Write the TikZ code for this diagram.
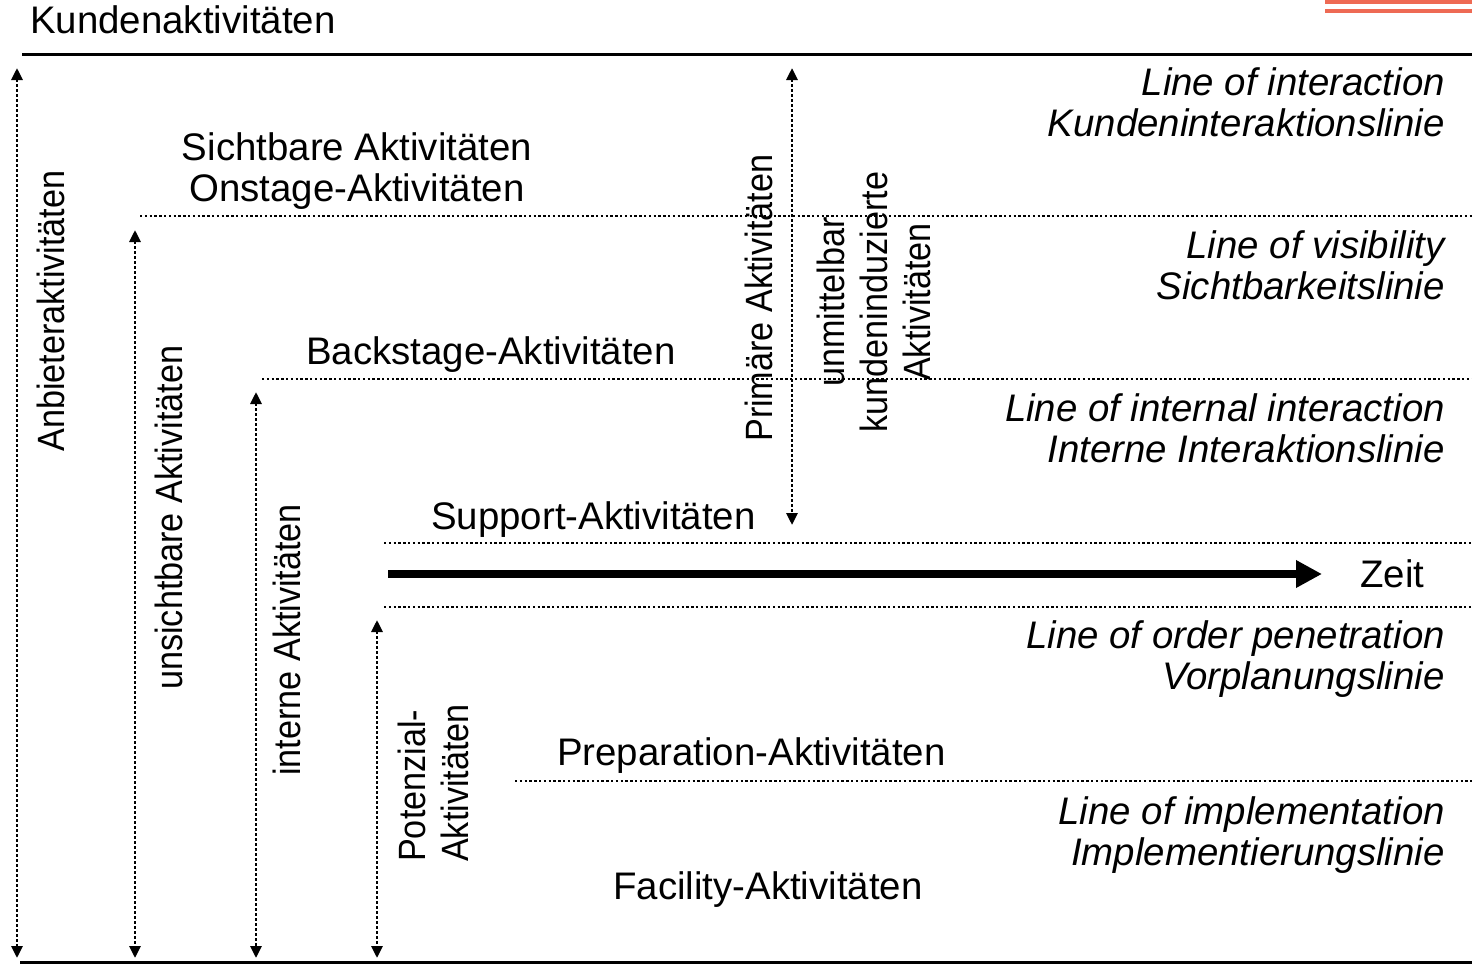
\documentclass[tikz,border=0pt]{standalone}
\usepackage{fontspec}
\setmainfont{Liberation Sans}
\usetikzlibrary{arrows.meta}
\definecolor{redl}{RGB}{238, 106, 84}
\newcommand{\sq}[1]{\scalebox{0.9}[1]{#1}}

\begin{document}
\begin{tikzpicture}[x=1pt, y=-1pt,
  every node/.style={inner sep=0pt, font=\fontsize{38.4}{41}\selectfont},
  hline/.style={line width=2.4pt, dash pattern=on 2.4pt off 2.4pt},
  vline/.style={line width=2.9pt, dash pattern=on 3pt off 2pt,
    {Triangle[length=12pt,width=11pt]}-{Triangle[length=12pt,width=11pt]}},
  linelbl/.style={anchor=base east, align=right, font=\fontsize{38.4}{41}\selectfont\itshape},
  rot/.style={rotate=90, anchor=base west, font=\fontsize{38}{43}\selectfont}]
  \useasboundingbox (0,0) rectangle (1472,964);

  % frame
  \coordinate (T1) at (22, 54);
  \coordinate (T2) at (1472, 54);
  \coordinate (U1) at (20, 962);
  \coordinate (U2) at (1472, 962);
  \draw[line width=3pt] (T1) -- (T2);
  \draw[line width=3pt] (U1) -- (U2);
  \fill[redl] (1325, 0) rectangle (1472, 3.5);
  \fill[redl] (1325, 9) rectangle (1472, 13);

  % horizontal lines
  \coordinate (H1a) at (140, 216);  \coordinate (H1b) at (1472, 216);
  \coordinate (H2a) at (262, 379);  \coordinate (H2b) at (1472, 379);
  \coordinate (H3a) at (384, 543);  \coordinate (H3b) at (1472, 543);
  \coordinate (H4a) at (384, 607);  \coordinate (H4b) at (1472, 607);
  \coordinate (H5a) at (515, 781);  \coordinate (H5b) at (1472, 781);
  \foreach \i in {1,...,5}
    \draw[hline] (H\i a) -- (H\i b);

  % vertical arrows
  \coordinate (A1) at (17, 68);    \coordinate (B1) at (17, 958);
  \coordinate (A2) at (135, 230);  \coordinate (B2) at (135, 958);
  \coordinate (A3) at (256, 392);  \coordinate (B3) at (256, 958);
  \coordinate (A4) at (377, 620);  \coordinate (B4) at (377, 958);
  \coordinate (A5) at (792, 68);   \coordinate (B5) at (792, 525);
  \foreach \i in {1,...,5}
    \draw[vline] (A\i) -- (B\i);

  % time axis
  \coordinate (Z1) at (388, 574);
  \coordinate (Z2) at (1322, 574);
  \draw[line width=8pt, -{Triangle[length=26pt,width=26pt]}] (Z1) -- (Z2);
  \node[anchor=base west] (zeit) at (1360, 587) {Zeit};

  \node[anchor=base west] (kunde) at (30, 33) {Kundenaktivitäten};

  % activity labels
  \node[anchor=base, align=center] (sicht) at (357, 201) {Sichtbare Aktivitäten\\Onstage-Aktivitäten};
  \node[anchor=base west] (back) at (306, 364) {Backstage-Aktivitäten};
  \node[anchor=base west] (supp) at (431, 529) {Support-Aktivitäten};
  \node[anchor=base west] (prep) at (557, 765) {Preparation-Aktivitäten};
  \node[anchor=base west] (facil) at (613, 899) {Facility-Aktivitäten};

  % line labels
  \node[linelbl] (l1) at (1445, 136) {Line of interaction\\Kundeninteraktionslinie};
  \node[linelbl] (l2) at (1445, 299) {Line of visibility\\Sichtbarkeitslinie};
  \node[linelbl] (l3) at (1445, 462) {Line of internal interaction\\Interne Interaktionslinie};
  \node[linelbl] (l4) at (1445, 689) {Line of order penetration\\Vorplanungslinie};
  \node[linelbl] (l5) at (1445, 865) {Line of implementation\\Implementierungslinie};

  % rotated labels
  \node[rot] (anb) at (64, 452) {\sq{Anbieteraktivitäten}};
  \node[rot] (unsi) at (182, 690) {\sq{unsichtbare Aktivitäten}};
  \node[rot] (intern) at (300, 776) {\sq{interne Aktivitäten}};
  \node[rot, align=left] (pot) at (468, 862) {\sq{Potenzial-}\\\sq{Aktivitäten}};
  \node[rot] (prim) at (772, 442) {\sq{Primäre Aktivitäten}};
  \node[rot, anchor=base, align=center] (unmit) at (930, 302)
    {\sq{unmittelbar}\\\sq{kundeninduzierte}\\\sq{Aktivitäten}};
\end{tikzpicture}
\end{document}
